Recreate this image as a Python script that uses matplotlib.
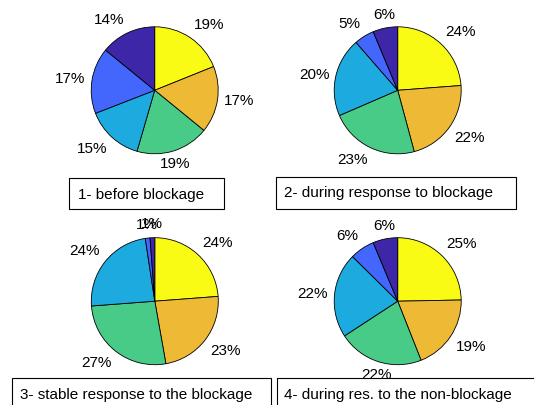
import matplotlib
matplotlib.use('Agg')
import matplotlib.pyplot as plt
from matplotlib.patches import Rectangle
import numpy as np

plt.rcParams['font.family'] = ['Liberation Sans', 'DejaVu Sans']

# slice shares, clockwise from 12 o'clock (yellow, orange, green, cyan, blue, dark blue)
before = [18.9, 17.0, 18.6, 14.6, 16.8, 14.1]
during = [23.8, 22.0, 22.7, 20.1, 5.1, 6.3]
stable = [23.8, 23.4, 26.6, 23.8, 1.2, 1.2]
nonblock = [24.7, 19.3, 21.8, 21.6, 6.3, 6.3]

titles = ['1- before blockage',
          '2- during response to blockage',
          '3- stable response to the blockage',
          '4- during res. to the non-blockage']

# parula-like colours
slice_colors = ['#F9FB15', '#EEB935', '#48CB86', '#1DAADF', '#4367FD', '#3D26A8']

W, H = 534, 405
fig = plt.figure(figsize=(W / 100, H / 100), dpi=100)

# layout in pixels
R = 63.5
centers = [(154.7, 90.3), (397.7, 90.3), (154.8, 301.2), (397.7, 301.2)]
boxes = [(69, 178, 155, 31), (276, 177, 240, 32), (12, 378, 259, 40), (277, 378, 270, 40)]
text_x = [78, 284, 20, 284]

for (cx, cy), vals in zip(centers, [before, during, stable, nonblock]):
    ax = fig.add_axes([(cx - R) / W, 1 - (cy + R) / H, 2 * R / W, 2 * R / H])
    labels = [f'{v:.0f}%' for v in vals]
    wedges, texts = ax.pie(vals, labels=labels, colors=slice_colors, startangle=90,
                           counterclock=False, labeldistance=1.1,
                           wedgeprops=dict(edgecolor='black', linewidth=0.6),
                           textprops=dict(fontsize=11))
    # matlab-ish label alignment
    for t in texts:
        x, y = t.get_position()
        ang = np.arctan2(y, x)
        c, s = np.cos(ang), np.sin(ang)
        t.set_ha('center' if abs(c) < 0.35 else ('left' if c > 0 else 'right'))
        t.set_va('center' if abs(s) < 0.35 else ('bottom' if s > 0 else 'top'))
    ax.set_xlim(-1, 1)
    ax.set_ylim(-1, 1)
    ax.set_aspect('equal')
    ax.axis('off')

# legend-style boxes
for (bx, by, bw, bh), tx, title in zip(boxes, text_x, titles):
    fig.add_artist(Rectangle((bx / W, 1 - (by + bh) / H), bw / W, bh / H,
                             transform=fig.transFigure, facecolor='white',
                             edgecolor='black', linewidth=0.8, zorder=-1))
    fig.text(tx / W, 1 - (by + 20.5) / H, title, fontsize=11, ha='left', va='baseline')

fig.savefig('out.png', dpi=100)
